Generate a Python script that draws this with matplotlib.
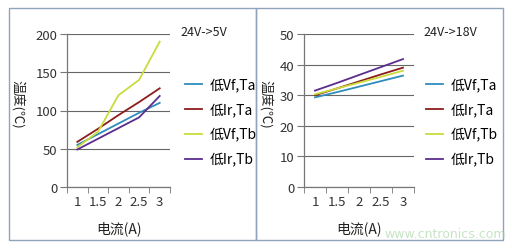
import matplotlib.pyplot as plt
from matplotlib.patches import Rectangle

plt.rcParams['font.family'] = ['Noto Sans CJK SC', 'DejaVu Sans']

# categories (current, A)
currents = ['1', '1.5', '2', '2.5', '3']
series_names = ['低Vf,Ta', '低Ir,Ta', '低Vf,Tb', '低Ir,Tb']
colors = ['#2f8cbc', '#8c1c1c', '#c9dc3a', '#5b2d8e']

# 24V -> 5V temperatures
t5_vf_ta = [55, 69, 83, 97, 110]
t5_ir_ta = [59, 76, 94, 111, 129]
t5_vf_tb = [52, 72, 120, 140, 190]
t5_ir_tb = [49, 63, 77, 91, 119]

# 24V -> 18V temperatures
t18_vf_ta = [29.3, 31.0, 32.8, 34.6, 36.4]
t18_ir_ta = [30.0, 32.2, 34.5, 36.8, 39.0]
t18_vf_tb = [30.3, 32.2, 34.1, 36.0, 38.0]
t18_ir_tb = [31.5, 34.0, 36.6, 39.2, 41.8]

W, H = 512, 251
fig = plt.figure(figsize=(W / 100, H / 100), dpi=100)
fig.patch.set_facecolor('white')


def fx(px):
    return px / W


def fy(py):
    return 1 - py / H


# panel frames
for x0, x1 in [(9, 256), (256, 503)]:
    fig.patches.append(Rectangle((fx(x0), fy(241)), fx(x1 - x0), (241 - 9) / H,
                                 transform=fig.transFigure, fill=False,
                                 edgecolor='#8fa4ba', lw=1.0))


def panel(left, right, data, ymax, ystep, title, title_x, leg_x, ylab_x):
    ax = fig.add_axes([fx(left), fy(188), fx(right - left), 153 / H])
    pos = range(len(currents))
    for vals, c, name in zip(data, colors, series_names):
        ax.plot(pos, vals, color=c, lw=1.3, label=name)
    ax.set_xlim(-0.5, len(currents) - 0.5)
    ax.set_ylim(0, ymax)
    ax.set_yticks(range(0, ymax + 1, ystep))
    ax.set_xticks(list(pos))
    ax.set_xticklabels(currents)
    ax.set_xticks([p - 0.5 for p in range(len(currents) + 1)], minor=True)
    ax.tick_params(axis='x', which='major', length=0, pad=6, labelsize=9.5, colors='#333333')
    ax.tick_params(axis='x', which='minor', length=4, color='#777777', direction='out')
    ax.tick_params(axis='y', length=5, color='#777777', labelsize=9.5, labelcolor='#333333', pad=2)
    ax.yaxis.grid(True, color='#666666', lw=0.8)
    ax.set_axisbelow(True)
    for s in ['top', 'right']:
        ax.spines[s].set_visible(False)
    for s in ['left', 'bottom']:
        ax.spines[s].set_color('#777777')
        ax.spines[s].set_linewidth(0.9)
    ax.set_facecolor('white')

    fig.text(fx(title_x), fy(32), title, fontsize=9, va='center', color='#222222')
    fig.text(fx(ylab_x), fy(104), '温度(℃)', rotation=270, fontsize=9.5,
             va='center', ha='center', color='#222222')
    fig.text(fx((left + right) / 2), fy(229), '电流(A)', fontsize=10,
             va='center', ha='center', color='#222222')
    ax.legend(loc='upper left', bbox_to_anchor=(fx(leg_x), fy(79)),
              bbox_transform=fig.transFigure, frameon=False, fontsize=10,
              handlelength=1.2, handletextpad=0.6, labelspacing=0.78,
              borderpad=0, borderaxespad=0)
    return ax


panel(67, 170, [t5_vf_ta, t5_ir_ta, t5_vf_tb, t5_ir_tb], 200, 50,
      '24V->5V', 180, 185, 18)
panel(304, 414, [t18_vf_ta, t18_ir_ta, t18_vf_tb, t18_ir_tb], 50, 10,
      '24V->18V', 423, 426, 266)

fig.text(fx(384), fy(235), 'www.cntronics.com', fontsize=9, color='#9fd39a',
         alpha=0.6, ha='left', va='center', family='DejaVu Sans')

fig.savefig('out.png', dpi=100)
